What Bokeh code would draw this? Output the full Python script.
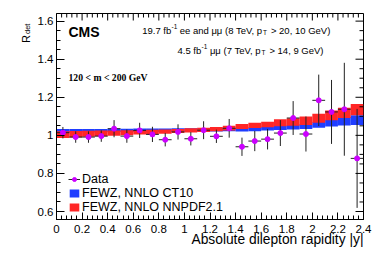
import numpy as np
from math import pi
from bokeh.plotting import figure
from bokeh.layouts import row
from bokeh.models import (ColumnDataSource, Label, Legend, LegendItem,
                          FixedTicker, Range1d, Title)
from bokeh.embed import file_html
from bokeh.resources import INLINE

# ---------------- data ----------------
bin_lo = [0.0, 0.1, 0.2, 0.3, 0.4, 0.5, 0.6, 0.7, 0.8, 0.9, 1.0, 1.1,
          1.2, 1.3, 1.4, 1.5, 1.6, 1.7, 1.8, 1.9, 2.0, 2.1, 2.2, 2.3]
bin_hi = [0.1, 0.2, 0.3, 0.4, 0.5, 0.6, 0.7, 0.8, 0.9, 1.0, 1.1, 1.2,
          1.3, 1.4, 1.5, 1.6, 1.7, 1.8, 1.9, 2.0, 2.1, 2.2, 2.3, 2.4]

data_r = [1.014, 0.991, 0.991, 0.996, 1.035, 0.996, 1.026, 1.005, 0.977, 1.018, 0.982, 1.027,
          0.995, 1.037, 0.940, 0.970, 0.980, 1.012, 1.091, 1.007, 1.184, 1.123, 1.137, 0.879]
data_err = [0.030, 0.030, 0.030, 0.030, 0.045, 0.035, 0.040, 0.040, 0.035, 0.040, 0.035, 0.047,
            0.035, 0.049, 0.048, 0.053, 0.054, 0.068, 0.089, 0.092, 0.135, 0.168, 0.244, 0.260]

ct10_c = [1.024, 1.024, 1.025, 1.025, 1.026, 1.026, 1.027, 1.027, 1.027, 1.028, 1.028, 1.028,
          1.029, 1.030, 1.030, 1.032, 1.035, 1.039, 1.043, 1.047, 1.055, 1.064, 1.074, 1.080]
ct10_h = [0.009, 0.009, 0.009, 0.009, 0.009, 0.009, 0.009, 0.009, 0.009, 0.009, 0.009, 0.009,
          0.009, 0.009, 0.010, 0.010, 0.010, 0.011, 0.012, 0.013, 0.015, 0.018, 0.022, 0.026]

nnpdf_c = [1.004, 1.006, 1.008, 1.010, 1.012, 1.014, 1.016, 1.018, 1.020, 1.023, 1.026, 1.029,
           1.033, 1.038, 1.046, 1.052, 1.057, 1.066, 1.070, 1.077, 1.090, 1.105, 1.118, 1.135]
nnpdf_h = [0.018, 0.017, 0.016, 0.015, 0.014, 0.013, 0.012, 0.012, 0.011, 0.011, 0.011, 0.011,
           0.011, 0.012, 0.013, 0.014, 0.015, 0.018, 0.020, 0.022, 0.024, 0.026, 0.027, 0.029]

x_ticks = [0.0, 0.2, 0.4, 0.6, 0.8, 1.0, 1.2, 1.4, 1.6, 1.8, 2.0, 2.2, 2.4]
x_tick_labels = ["0", "0.2", "0.4", "0.6", "0.8", "1", "1.2", "1.4", "1.6", "1.8", "2", "2.2", "2.4"]
y_ticks = [0.6, 0.8, 1.0, 1.2, 1.4, 1.6]
y_tick_labels = ["0.6", "0.8", "1", "1.2", "1.4", "1.6"]

# ---------------- layout constants ----------------
W, H = 374, 253
LW = 34                  # width of the strip holding the y-axis title
X0, X1 = 0.0, 2.4
Y0, Y1 = 0.558, 1.64
FW, FH = 307, 206
FL, FT = 56, 13          # frame left / top in page pixels
FONT = "Liberation Sans"

# ---------------- y-axis title strip ----------------
side = figure(frame_width=LW, frame_height=H, x_range=Range1d(0, LW), y_range=Range1d(0, H),
              output_backend="svg", toolbar_location=None,
              x_axis_location=None, y_axis_location=None,
              min_border_left=0, min_border_right=0, min_border_top=0, min_border_bottom=0)
side.outline_line_color = None
side.xgrid.visible = False
side.ygrid.visible = False
side.background_fill_color = "white"
side.border_fill_color = "white"
side.add_layout(Label(x=25, y=H - 29.5, x_units="screen", y_units="screen", text="R",
                      text_font=FONT, text_font_size="11px", angle=pi / 2, text_align="left",
                      text_baseline="alphabetic", text_color="black"))
side.add_layout(Label(x=26.5, y=H - 20.5, x_units="screen", y_units="screen", text="det",
                      text_font=FONT, text_font_size="7.5px", angle=pi / 2, text_align="left",
                      text_baseline="alphabetic", text_color="black"))

# ---------------- main figure ----------------
p = figure(frame_width=FW, frame_height=FH, x_range=Range1d(X0, X1), y_range=Range1d(Y0, Y1),
           output_backend="svg", toolbar_location=None,
           min_border_left=FL - LW, min_border_right=W - FL - FW, min_border_top=FT,
           min_border_bottom=H - FT - FH)
p.background_fill_color = "white"
p.border_fill_color = "white"
p.outline_line_color = "black"
p.outline_line_width = 1
p.xgrid.visible = False
p.ygrid.visible = False

XS = FW / (X1 - X0)      # px per x unit
YS = FH / (Y1 - Y0)      # px per y unit

def dx(px):
    return X0 + (px - FL) / XS

def dy(py):
    return Y1 - (py - FT) / YS

lo = np.array(bin_lo)
hi = np.array(bin_hi)
xc = (lo + hi) / 2
r = np.array(data_r)
e = np.array(data_err)

blue = ColumnDataSource(dict(left=lo, right=hi,
                             bottom=np.array(ct10_c) - np.array(ct10_h),
                             top=np.array(ct10_c) + np.array(ct10_h)))
red = ColumnDataSource(dict(left=lo, right=hi,
                            bottom=np.array(nnpdf_c) - np.array(nnpdf_h),
                            top=np.array(nnpdf_c) + np.array(nnpdf_h)))
r_blue = p.quad(left="left", right="right", bottom="bottom", top="top", source=blue,
                fill_color="#1f3dff", line_color=None)
r_red = p.quad(left="left", right="right", bottom="bottom", top="top", source=red,
               fill_color="#ff2626", line_color=None)

pts = ColumnDataSource(dict(x=xc, y=r, x0=lo, x1=hi, y0=r - e, y1=r + e))
p.segment(x0="x", x1="x", y0="y0", y1="y1", source=pts, line_color="#222222", line_width=1)
r_hbar = p.segment(x0="x0", x1="x1", y0="y", y1="y", source=pts, line_color="#222222", line_width=1)
r_pts = p.scatter(x="x", y="y", source=pts, size=5, marker="circle",
                  fill_color="#cc00ff", line_color="#cc00ff")

# ---------------- axes ----------------
x_minor = list(np.round(np.arange(0.0, 2.4001, 0.04), 3))
y_minor = list(np.round(np.arange(0.6, 1.6401, 0.05), 3))

def style_axis(ax, ticks, minor, labels, tin, tmin, standoff):
    ax.ticker = FixedTicker(ticks=ticks, minor_ticks=minor)
    ax.major_label_overrides = {t: l for t, l in zip(ticks, labels)}
    ax.major_tick_in = tin
    ax.major_tick_out = 0
    ax.minor_tick_in = tmin
    ax.minor_tick_out = 0
    ax.axis_line_color = "black"
    ax.major_tick_line_color = "black"
    ax.minor_tick_line_color = "black"
    ax.major_label_text_font = FONT
    ax.major_label_text_color = "black"
    ax.major_label_text_font_size = "11.5px"
    ax.major_label_standoff = standoff

style_axis(p.xaxis[0], x_ticks, x_minor, x_tick_labels, 7, 4, 5)
style_axis(p.yaxis[0], y_ticks, y_minor, y_tick_labels, 8, 4, 3)

# mirrored ticks on the top and right frame edges (ROOT style)
def mirror_ticks(ticks, length_px, horizontal):
    t = np.array(ticks, dtype=float)
    if horizontal:   # top edge, ticks hanging down
        p.segment(x0=t, x1=t, y0=np.full(len(t), Y1), y1=np.full(len(t), Y1 - length_px / YS),
                  line_color="black", line_width=1)
    else:            # right edge, ticks pointing left
        p.segment(x0=np.full(len(t), X1), x1=np.full(len(t), X1 - length_px / XS), y0=t, y1=t,
                  line_color="black", line_width=1)

mirror_ticks(x_ticks, 7, True)
mirror_ticks([m for m in x_minor if min(abs(m - t) for t in x_ticks) > 1e-6], 4, True)
mirror_ticks(y_ticks, 8, False)
mirror_ticks([m for m in y_minor if min(abs(m - t) for t in y_ticks) > 1e-6], 4, False)

# ---------------- texts ----------------
def lab(text, px, py, size, font=FONT, style="normal", align="left"):
    p.add_layout(Label(x=dx(px), y=dy(py), text=text, text_font=font, text_font_size=size,
                       text_font_style=style, text_align=align, text_baseline="alphabetic",
                       text_color="black"))

lab("CMS", 68, 31.5, "14px", style="bold")
lab("120 < m < 200 GeV", 68, 76.5, "9.7px", font="Liberation Serif", style="bold")

# line 1
lab("19.7 fb", 141.7, 29.5, "9.5px")
lab("-1", 171.0, 25.5, "6.5px")
lab("ee and \u03bc\u03bc (8 TeV, p", 179.2, 29.5, "9.5px")
lab("T", 262.5, 32, "6.5px")
lab("> 20, 10 GeV)", 270.4, 29.5, "9.5px")
# line 2
lab("4.5 fb", 177, 49.5, "9.5px")
lab("-1", 201.0, 45.5, "6.5px")
lab("\u03bc\u03bc (7 TeV, p", 209.4, 49.5, "9.5px")
lab("T", 261.0, 52, "6.5px")
lab("> 14, 9 GeV)", 268.9, 49.5, "9.5px")

# x axis title, right aligned under the frame
p.add_layout(Title(text="Absolute dilepton rapidity |y|", align="right", text_font=FONT,
                   text_font_size="13.8px", text_font_style="normal", text_color="black",
                   standoff=-11, offset=0), "below")

# ---------------- legend ----------------
legend = Legend(items=[
    LegendItem(label="Data", renderers=[r_hbar, r_pts]),
    LegendItem(label="FEWZ, NNLO CT10", renderers=[r_blue]),
    LegendItem(label="FEWZ, NNLO NNPDF2.1", renderers=[r_red]),
], location=(12, 5))
legend.label_text_font = FONT
legend.label_text_font_size = "12.5px"
legend.label_text_color = "black"
legend.glyph_width = 12
legend.glyph_height = 10
legend.label_height = 10
legend.label_standoff = 2
legend.spacing = -2
legend.padding = 0
legend.margin = 0
legend.background_fill_alpha = 0
legend.border_line_alpha = 0
p.add_layout(legend)

layout = row(side, p, spacing=0)
open("out.html", "w").write(file_html(layout, INLINE))
